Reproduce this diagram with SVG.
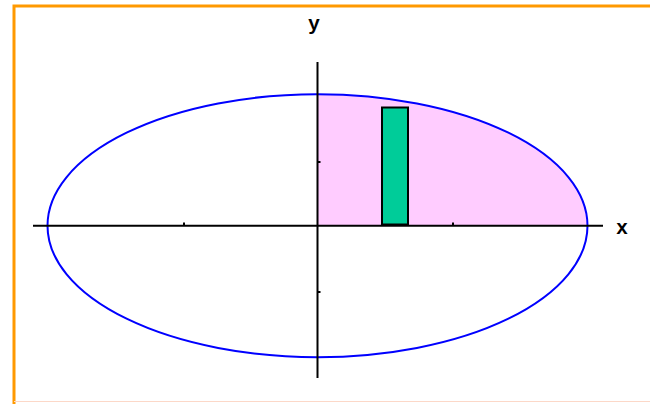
<svg xmlns="http://www.w3.org/2000/svg" width="650" height="404" viewBox="0 0 650 404">
<style>
.ax{stroke:#000;stroke-width:2;fill:none}
.tk{stroke:#000;stroke-width:2}
.lbl{font-family:"Liberation Mono",monospace;font-weight:bold;font-size:20px;fill:#000;text-anchor:middle}
</style>
<rect x="0" y="0" width="650" height="404" fill="#fff"/>
<path d="M14,404 V6 H650" fill="none" stroke="#ff9900" stroke-width="3"/>
<line x1="14" y1="401.5" x2="650" y2="401.5" stroke="#fcd8c8" stroke-width="1"/>
<g id="region">
<path d="M317.5,225.7 V94.2 A270,131.5 0 0 1 587.5,225.7 Z" fill="#ffccff"/>
</g>
<g id="ellipse">
<ellipse cx="317.5" cy="225.7" rx="270" ry="131.5" fill="none" stroke="#0000ff" stroke-width="2"/>
</g>
<g id="strip">
<rect x="382" y="107.5" width="26" height="117" fill="#00cc99" stroke="#000" stroke-width="2"/>
</g>
<g id="axes">
<line class="ax" x1="33" y1="225.7" x2="603" y2="225.7"/>
<line class="ax" x1="317.5" y1="62" x2="317.5" y2="378"/>
<line class="tk" x1="184" y1="222.5" x2="184" y2="225"/>
<line class="tk" x1="453" y1="222.5" x2="453" y2="225"/>
<line class="tk" x1="318" y1="162" x2="320.5" y2="162"/>
<line class="tk" x1="318" y1="292" x2="320.5" y2="292"/>
</g>
<g id="labels">
<text class="lbl" x="314" y="30">y</text>
<text class="lbl" x="622" y="234">x</text>
</g>
</svg>
